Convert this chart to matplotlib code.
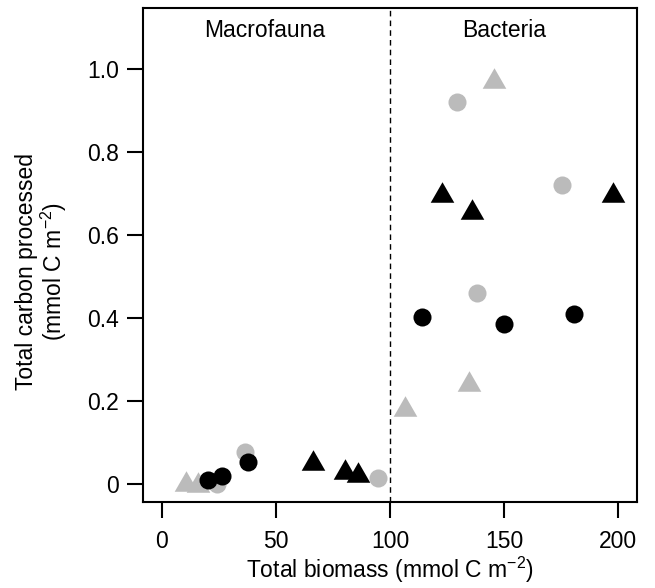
import matplotlib
matplotlib.use("Agg")
import matplotlib.pyplot as plt

plt.rcParams['font.family'] = ['Liberation Sans', 'DejaVu Sans']
plt.rcParams['mathtext.default'] = 'regular'

# Data
gray_circle_x = [24.0, 36.4, 94.6, 129.2, 138.0, 175.3]
gray_circle_y = [0.000, 0.078, 0.015, 0.920, 0.460, 0.720]

black_circle_x = [20.0, 26.5, 37.6, 113.9, 150.0, 180.6]
black_circle_y = [0.010, 0.018, 0.054, 0.402, 0.386, 0.409]

gray_tri_x = [10.5, 16.0, 106.6, 134.8, 145.8]
gray_tri_y = [0.008, 0.005, 0.188, 0.247, 0.979]

black_tri_x = [66.4, 80.3, 86.1, 122.9, 135.8, 198.0]
black_tri_y = [0.058, 0.036, 0.030, 0.703, 0.662, 0.704]

x_ticks = [0, 50, 100, 150, 200]
y_ticks = [0, 0.2, 0.4, 0.6, 0.8, 1.0]
y_tick_labels = ['0', '0.2', '0.4', '0.6', '0.8', '1.0']
divider_x = 100
region_labels = ['Macrofauna', 'Bacteria']
region_label_x = [45, 150]

GRAY = '#bbbbbb'
FS = 16.5
tri = [(-1.0, -0.87), (1.0, -0.87), (0.0, 0.87), (-1.0, -0.87)]

fig = plt.figure(figsize=(6.55, 5.88), dpi=100)
ax = fig.add_axes([0.2183, 0.1463, 0.9725 - 0.2183, 0.9864 - 0.1463])

ax.axvline(divider_x, color='black', lw=1.0, ls=(0, (4, 3)), zorder=1)

ax.plot(gray_tri_x, gray_tri_y, ls='none', marker=tri, ms=17, color=GRAY, mec='none', zorder=2)
ax.plot(gray_circle_x, gray_circle_y, ls='none', marker='o', ms=13, color=GRAY, mec='none', zorder=2)
ax.plot(black_tri_x, black_tri_y, ls='none', marker=tri, ms=17, color='black', mec='none', zorder=3)
ax.plot(black_circle_x, black_circle_y, ls='none', marker='o', ms=13, color='black', mec='none', zorder=3)

for lab, lx in zip(region_labels, region_label_x):
    ax.text(lx, 1.092, lab, ha='center', va='center', fontsize=FS)

ax.set_xlim(-8.3, 208.3)
ax.set_ylim(-0.0434, 1.147)
ax.set_xticks(x_ticks)
ax.set_xticklabels([str(v) for v in x_ticks])
ax.set_yticks(y_ticks)
ax.set_yticklabels(y_tick_labels)

for s in ax.spines.values():
    s.set_linewidth(1.5)
ax.tick_params(axis='both', direction='out', length=11.5, width=1.5, labelsize=FS)
ax.tick_params(axis='x', pad=9)
ax.tick_params(axis='y', pad=6)

ax.set_xlabel('Total biomass (mmol C m$^{-2}$)', fontsize=FS)
ax.set_ylabel('Total carbon processed\n(mmol C m$^{-2}$)', fontsize=FS, linespacing=1.05)
ax.xaxis.set_label_coords(0.5, -0.106)
ax.yaxis.set_label_coords(-0.15, 0.466)

fig.savefig('out.png', dpi=100)
